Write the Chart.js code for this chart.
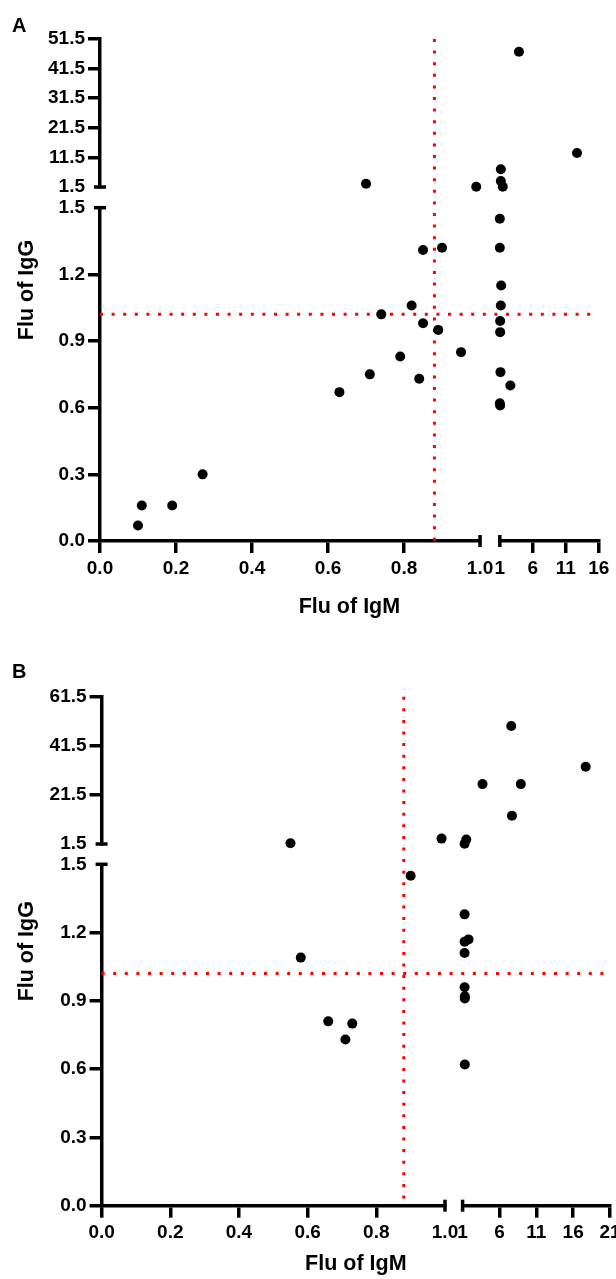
<!DOCTYPE html>
<html>
<head>
<meta charset="utf-8">
<script src="https://cdn.jsdelivr.net/npm/chart.js@4.4.1/dist/chart.umd.min.js"></script>
<style>
html, body { margin:0; padding:0; background:#fff; overflow:hidden; width:616px; height:1279px; }
canvas { position:absolute; left:0; }
#cA { top:0; }
#cB { top:640px; }
</style>
</head>
<body>
<canvas id="cA" width="616" height="640"></canvas>
<canvas id="cB" width="640" height="639"></canvas>
<script>
// ---------- data ----------
const igmCutoff = 0.88;   // vertical dotted line (Flu of IgM)
const iggCutoff = 1.02;   // horizontal dotted line (Flu of IgG)

const lowYTicks = [0, 0.3, 0.6, 0.9, 1.2, 1.5];
const lowXTicks = [0, 0.2, 0.4, 0.6, 0.8, 1.0];
const aHighYTicks = [1.5, 11.5, 21.5, 31.5, 41.5, 51.5];
const aHighXTicks = [1, 6, 11, 16];
const bHighYTicks = [1.5, 21.5, 41.5, 61.5];
const bHighXTicks = [1, 6, 11, 16, 21];

// Panel A points [IgM, IgG], grouped by axis segment (IgM segment, IgG segment)
const aLowLow = [[0.10,0.07],[0.11,0.16],[0.19,0.16],[0.27,0.30],[0.63,0.67],[0.71,0.75],
                 [0.74,1.02],[0.79,0.83],[0.82,1.06],[0.85,0.98],[0.84,0.73],[0.89,0.95],
                 [0.95,0.85],[0.85,1.31],[0.90,1.32]];
const aLowHigh = [[0.70,2.6],[0.99,1.6]];
const aHighLow = [[1.2,1.15],[1.15,1.06],[1.05,0.99],[1.05,0.94],[1.1,0.76],[2.6,0.70],
                  [1.0,0.62],[1.05,0.61],[1.0,1.45],[1.0,1.32]];
const aHighHigh = [[3.9,47.2],[12.7,13.0],[1.15,7.5],[1.15,3.5],[1.45,1.6]];

// Panel B points
const bLowLow = [[0.90,1.45],[0.58,1.09],[0.66,0.81],[0.73,0.80],[0.71,0.73]];
const bLowHigh = [[0.55,1.8],[0.99,3.7]];
const bHighLow = [[1.27,1.28],[1.8,1.17],[1.27,1.16],[1.27,1.11],[1.27,0.96],[1.3,0.92],
                  [1.3,0.91],[1.3,0.62]];
const bHighHigh = [[7.6,49.6],[17.7,33.0],[3.7,25.9],[8.9,25.9],[7.7,13.0],[1.5,3.3],[1.27,1.6]];

// ---------- styling / helpers ----------
const FONT = '"Liberation Sans", Arial, sans-serif';
const AXW = 3.5;

function fixedTicks(list) { return s => { s.ticks = list.map(v => ({ value: v })); }; }

function tickCol(hideVal) {
  return c => (c.tick && Math.abs(c.tick.value - hideVal) < 1e-9) ? 'rgba(0,0,0,0)' : '#000';
}

function axisScale(kind, list, weight, hideVal, fmt, pad) {
  const isY = kind === 'y';
  return {
    type: 'linear', axis: kind, position: isY ? 'left' : 'bottom',
    stack: isY ? 'ys' : 'xs', stackWeight: weight,
    min: list[0], max: list[list.length - 1],
    afterBuildTicks: fixedTicks(list),
    afterFit: isY ? (s => { s.width = 70; }) : (s => { s.height = 60; }),
    border: { display: true, color: '#000', width: AXW },
    grid: { display: true, drawOnChartArea: false, drawTicks: true, tickLength: 12,
            tickWidth: AXW, lineWidth: AXW, color: '#000', tickColor: tickCol(hideVal) },
    ticks: { autoSkip: false, maxRotation: 0, padding: pad, color: '#000',
             font: { family: FONT, weight: 'bold', size: 19 }, callback: fmt }
  };
}
function gapScale(kind, weight) {
  return { type: 'linear', axis: kind, position: kind === 'y' ? 'left' : 'bottom',
           stack: kind === 'y' ? 'ys' : 'xs', stackWeight: weight, display: false, min: 0, max: 1 };
}
function fullScale(kind) {
  return { type: 'linear', axis: kind, position: kind === 'y' ? 'left' : 'bottom', display: false, min: 0, max: 1 };
}

function dots(arr, xId, yId) {
  return { data: arr.map(([x, y]) => ({ x, y })), xAxisID: xId, yAxisID: yId,
           showLine: false, pointRadius: 5, pointHoverRadius: 5,
           pointBackgroundColor: '#000', pointBorderWidth: 0, clip: false, order: 0 };
}
function refLine(data, xId, yId) {
  return { data, xAxisID: xId, yAxisID: yId, showLine: true, pointRadius: 0,
           borderColor: '#ff0000', borderWidth: 3, borderDash: [3, 8.6], borderCapStyle: 'butt',
           fill: false, clip: false, order: 1 };
}

const panelDeco = {
  id: 'panelDeco',
  afterDraw(chart, args, o) {
    const { ctx, scales } = chart;
    ctx.save();
    ctx.strokeStyle = '#000'; ctx.lineWidth = AXW; ctx.lineCap = 'butt';
    const cap = 6;
    [[scales.yHigh, scales.yHigh.min], [scales.yLow, scales.yLow.max]].forEach(([s, v]) => {
      const p = s.getPixelForValue(v), ax = s.right;
      ctx.beginPath(); ctx.moveTo(ax - cap, p); ctx.lineTo(ax + cap, p); ctx.stroke();
    });
    [[scales.xLow, scales.xLow.max], [scales.xHigh, scales.xHigh.min]].forEach(([s, v]) => {
      const p = s.getPixelForValue(v), ay = s.top;
      ctx.beginPath(); ctx.moveTo(p, ay - cap); ctx.lineTo(p, ay + cap); ctx.stroke();
    });
    ctx.fillStyle = '#000';
    ctx.textBaseline = 'alphabetic';
    ctx.font = 'bold 20px ' + FONT;
    ctx.textAlign = 'left';
    ctx.fillText(o.letter, 12, o.letterY);
    ctx.font = 'bold 21.5px ' + FONT;
    ctx.textAlign = 'center';
    const xc = (scales.xLow.left + scales.xHigh.right) / 2;
    ctx.fillText(o.xTitle, xc, scales.xLow.top + o.xTitleOffset);
    const yc = (scales.yHigh.top + scales.yLow.bottom) / 2;
    ctx.translate(o.yTitleX, yc); ctx.rotate(-Math.PI / 2);
    ctx.fillText(o.yTitle, 0, 0);
    ctx.restore();
  }
};

function makePanel(id, p) {
  const f1 = v => v.toFixed(1);
  const f0 = v => String(v);
  new Chart(document.getElementById(id), {
    type: 'scatter',
    data: {
      datasets: [
        dots(p.lowLow, 'xLow', 'yLow'),
        dots(p.lowHigh, 'xLow', 'yHigh'),
        dots(p.highLow, 'xHigh', 'yLow'),
        dots(p.highHigh, 'xHigh', 'yHigh'),
        refLine([{ x: igmCutoff, y: 1 }, { x: igmCutoff, y: 0 }], 'xLow', 'yFull'),
        refLine([{ x: 0, y: iggCutoff }, { x: 1, y: iggCutoff }], 'xFull', 'yLow')
      ]
    },
    options: {
      responsive: false, maintainAspectRatio: false, animation: false, events: [],
      layout: { padding: p.padding },
      plugins: {
        legend: { display: false }, tooltip: { enabled: false }, title: { display: false },
        panelDeco: { letter: p.letter, letterY: p.letterY, xTitle: 'Flu of IgM', yTitle: 'Flu of IgG',
                     xTitleOffset: p.xTitleOffset, yTitleX: 33 }
      },
      scales: {
        yLow: axisScale('y', lowYTicks, p.yWeights[0], 1.5, f1, 3),
        yGap: gapScale('y', p.yWeights[1]),
        yHigh: axisScale('y', p.yHighTicks, p.yWeights[2], 1.5, f1, 3),
        yFull: fullScale('y'),
        xLow: axisScale('x', lowXTicks, p.xWeights[0], 1.0, f1, 4),
        xGap: gapScale('x', p.xWeights[1]),
        xHigh: axisScale('x', p.xHighTicks, p.xWeights[2], 1, f0, 4),
        xFull: fullScale('x')
      }
    },
    plugins: [panelDeco]
  });
}

makePanel('cA', {
  lowLow: aLowLow, lowHigh: aLowHigh, highLow: aHighLow, highHigh: aHighHigh,
  yHighTicks: aHighYTicks, xHighTicks: aHighXTicks,
  yWeights: [333.3, 20.7, 148], xWeights: [384, 20, 100],
  padding: { left: 30, top: 39, right: 12, bottom: 39 },
  letter: 'A', letterY: 32, xTitleOffset: 72
});
makePanel('cB', {
  lowLow: bLowLow, lowHigh: bLowHigh, highLow: bHighLow, highHigh: bHighHigh,
  yHighTicks: bHighYTicks, xHighTicks: bHighXTicks,
  yWeights: [341.4, 20.3, 147.3], xWeights: [343.4, 17.6, 147.4],
  padding: { left: 31.6, top: 56.7, right: 30, bottom: 13.3 },
  letter: 'B', letterY: 38, xTitleOffset: 64
});
</script>
</body>
</html>
